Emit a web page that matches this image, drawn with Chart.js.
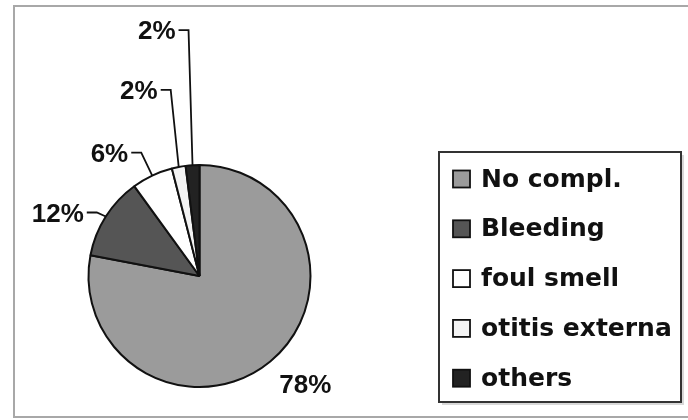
<!DOCTYPE html>
<html>
<head>
<meta charset="utf-8">
<script src="https://cdn.jsdelivr.net/npm/chart.js@4.4.1/dist/chart.umd.min.js"></script>
<style>
  html, body { margin: 0; padding: 0; background: #fff; }
  #wrap { width: 688px; height: 420px; position: relative; }
</style>
</head>
<body>
<div id="wrap"><canvas id="pie"></canvas></div>
<script>
// complications after the procedure, share of patients (%)
const labels = ["No compl.", "Bleeding", "foul smell", "otitis externa", "others"];
const values = [78, 12, 6, 2, 2];
const valueLabels = ["78%", "12%", "6%", "2%", "2%"];
const colors = ["#9b9b9b", "#555555", "#ffffff", "#f3f3f3", "#222222"];

// where each value label sits, relative to the slice's outer edge midpoint
const leaders = [
  { text: [35, 24] },          // no leader line
  { elbow: [-9, -4] },
  { elbow: [-11, -23] },
  { elbow: [-8, -77] },
  { elbow: [-4, -135] },
];

const frame = {
  id: "frame",
  beforeDraw(chart) {
    const c = chart.ctx;
    c.save();
    c.fillStyle = "#fff";
    c.fillRect(0, 0, chart.width, chart.height);
    c.strokeStyle = "#a8a8a8";
    c.lineWidth = 2;
    c.strokeRect(14, 6, 700, 411);
    c.restore();
  },
};

const leaderLabels = {
  id: "leaderLabels",
  afterDatasetsDraw(chart) {
    const c = chart.ctx;
    const arcs = chart.getDatasetMeta(0).data;
    c.save();
    c.font = "bold 26px 'Liberation Sans', Arial, sans-serif";
    c.fillStyle = "#111";
    c.strokeStyle = "#111";
    c.lineWidth = 1.8;
    c.textBaseline = "middle";
    arcs.forEach((arc, i) => {
      const p = arc.getProps(["x", "y", "startAngle", "endAngle", "outerRadius"], true);
      const mid = (p.startAngle + p.endAngle) / 2;
      const ex = p.x + Math.cos(mid) * p.outerRadius;
      const ey = p.y + Math.sin(mid) * p.outerRadius;
      const L = leaders[i];
      if (L.text) {
        c.textAlign = "center";
        c.fillText(valueLabels[i], ex + L.text[0], ey + L.text[1]);
        return;
      }
      const bx = ex + L.elbow[0], by = ey + L.elbow[1];
      c.beginPath();
      c.moveTo(ex, ey);
      c.lineTo(bx, by);
      c.lineTo(bx - 10, by);
      c.stroke();
      c.textAlign = "right";
      c.fillText(valueLabels[i], bx - 13, by + 2);
    });
    c.restore();
  },
};

const boxLegend = {
  id: "boxLegend",
  afterDraw(chart) {
    const c = chart.ctx;
    const ds = chart.data.datasets[0];
    const x0 = 439, y0 = 152, w = 242, h = 250;
    c.save();
    c.fillStyle = "#d8d8d8";
    c.fillRect(x0 + 3, y0 + 3, w, h);
    c.fillStyle = "#fff";
    c.fillRect(x0, y0, w, h);
    c.strokeStyle = "#333";
    c.lineWidth = 2;
    c.strokeRect(x0, y0, w, h);
    c.font = "bold 25px 'DejaVu Sans', Verdana, sans-serif";
    c.textBaseline = "middle";
    c.textAlign = "left";
    chart.data.labels.forEach((lab, i) => {
      const cy = 179 + i * 49.8;
      c.fillStyle = ds.backgroundColor[i];
      c.fillRect(453, cy - 8.5, 17, 17);
      c.strokeStyle = "#111";
      c.lineWidth = 1.8;
      c.strokeRect(453, cy - 8.5, 17, 17);
      c.fillStyle = "#111";
      c.fillText(lab, 481, cy + 1);
    });
    c.restore();
  },
};

new Chart(document.getElementById("pie"), {
  type: "pie",
  data: {
    labels,
    datasets: [{
      data: values,
      backgroundColor: colors,
      borderColor: "#111",
      borderWidth: 2,
    }],
  },
  options: {
    responsive: true,
    maintainAspectRatio: false,
    animation: false,
    radius: 111,
    layout: { padding: { left: 40, right: 329, top: 140, bottom: 8 } },
    plugins: { legend: { display: false }, tooltip: { enabled: false } },
  },
  plugins: [frame, leaderLabels, boxLegend],
});
</script>
</body>
</html>
